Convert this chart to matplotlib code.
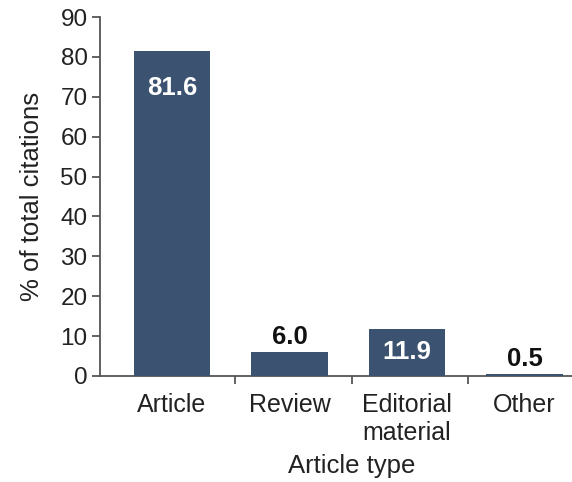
import matplotlib
matplotlib.use("Agg")
import matplotlib.pyplot as plt
import numpy as np

categories = ["Article", "Review", "Editorial\nmaterial", "Other"]
values = [81.6, 6.0, 11.9, 0.5]
label_inside = [True, False, True, False]
yticks = [0, 10, 20, 30, 40, 50, 60, 70, 80, 90]

plt.rcParams['font.family'] = ['Liberation Sans', 'DejaVu Sans']

W, H = 572, 482
fig = plt.figure(figsize=(W / 100, H / 100), dpi=100)
left, right, bottom, top = 100, 604, 376, 17
ax = fig.add_axes([left / W, 1 - bottom / H, (right - left) / W, (bottom - top) / H])

x = np.arange(len(categories))
bar_color = "#3b5370"
ax.bar(x, values, width=0.65, color=bar_color, zorder=3)

ax.set_ylim(0, 90)
ax.set_xlim(-0.613, 3.677)
ax.set_yticks(yticks)
ax.set_yticklabels([str(t) for t in yticks])

# category boundary ticks
ax.set_xticks([0.534, 1.534, 2.52])
ax.set_xticklabels([])
ax.tick_params(axis='x', which='major', length=6, width=1.3, color="#555555", direction='out')
ax.set_xticks(x, minor=True)
ax.set_xticklabels(categories, minor=True, fontsize=18, color="#222222", linespacing=1.25)
ax.tick_params(axis='x', which='minor', length=0, pad=12)
ax.tick_params(axis='y', length=6, width=1.3, color="#555555", labelsize=17.5, labelcolor="#222222", pad=3)

for s in ['top', 'right']:
    ax.spines[s].set_visible(False)
for s in ['left', 'bottom']:
    ax.spines[s].set_color("#555555")
    ax.spines[s].set_linewidth(1.3)

ax.set_ylabel("% of total citations", fontsize=18.5, color="#222222", labelpad=12)
ax.set_xlabel("Article type", fontsize=18.5, color="#222222", labelpad=6)

inside_offsets = [-37, None, -23, None]
for i, (v, inside) in enumerate(zip(values, label_inside)):
    if inside:
        ax.annotate(f"{v:.1f}", (x[i], v), xytext=(0, inside_offsets[i] * 0.72),
                    textcoords='offset points', ha='center', va='center',
                    fontsize=18.5, fontweight='bold', color='white', zorder=4)
    else:
        ax.annotate(f"{v:.1f}", (x[i], v), xytext=(0, 2),
                    textcoords='offset points', ha='center', va='bottom',
                    fontsize=18.5, fontweight='bold', color='#111111', zorder=4)

fig.savefig("out.png", dpi=100)
